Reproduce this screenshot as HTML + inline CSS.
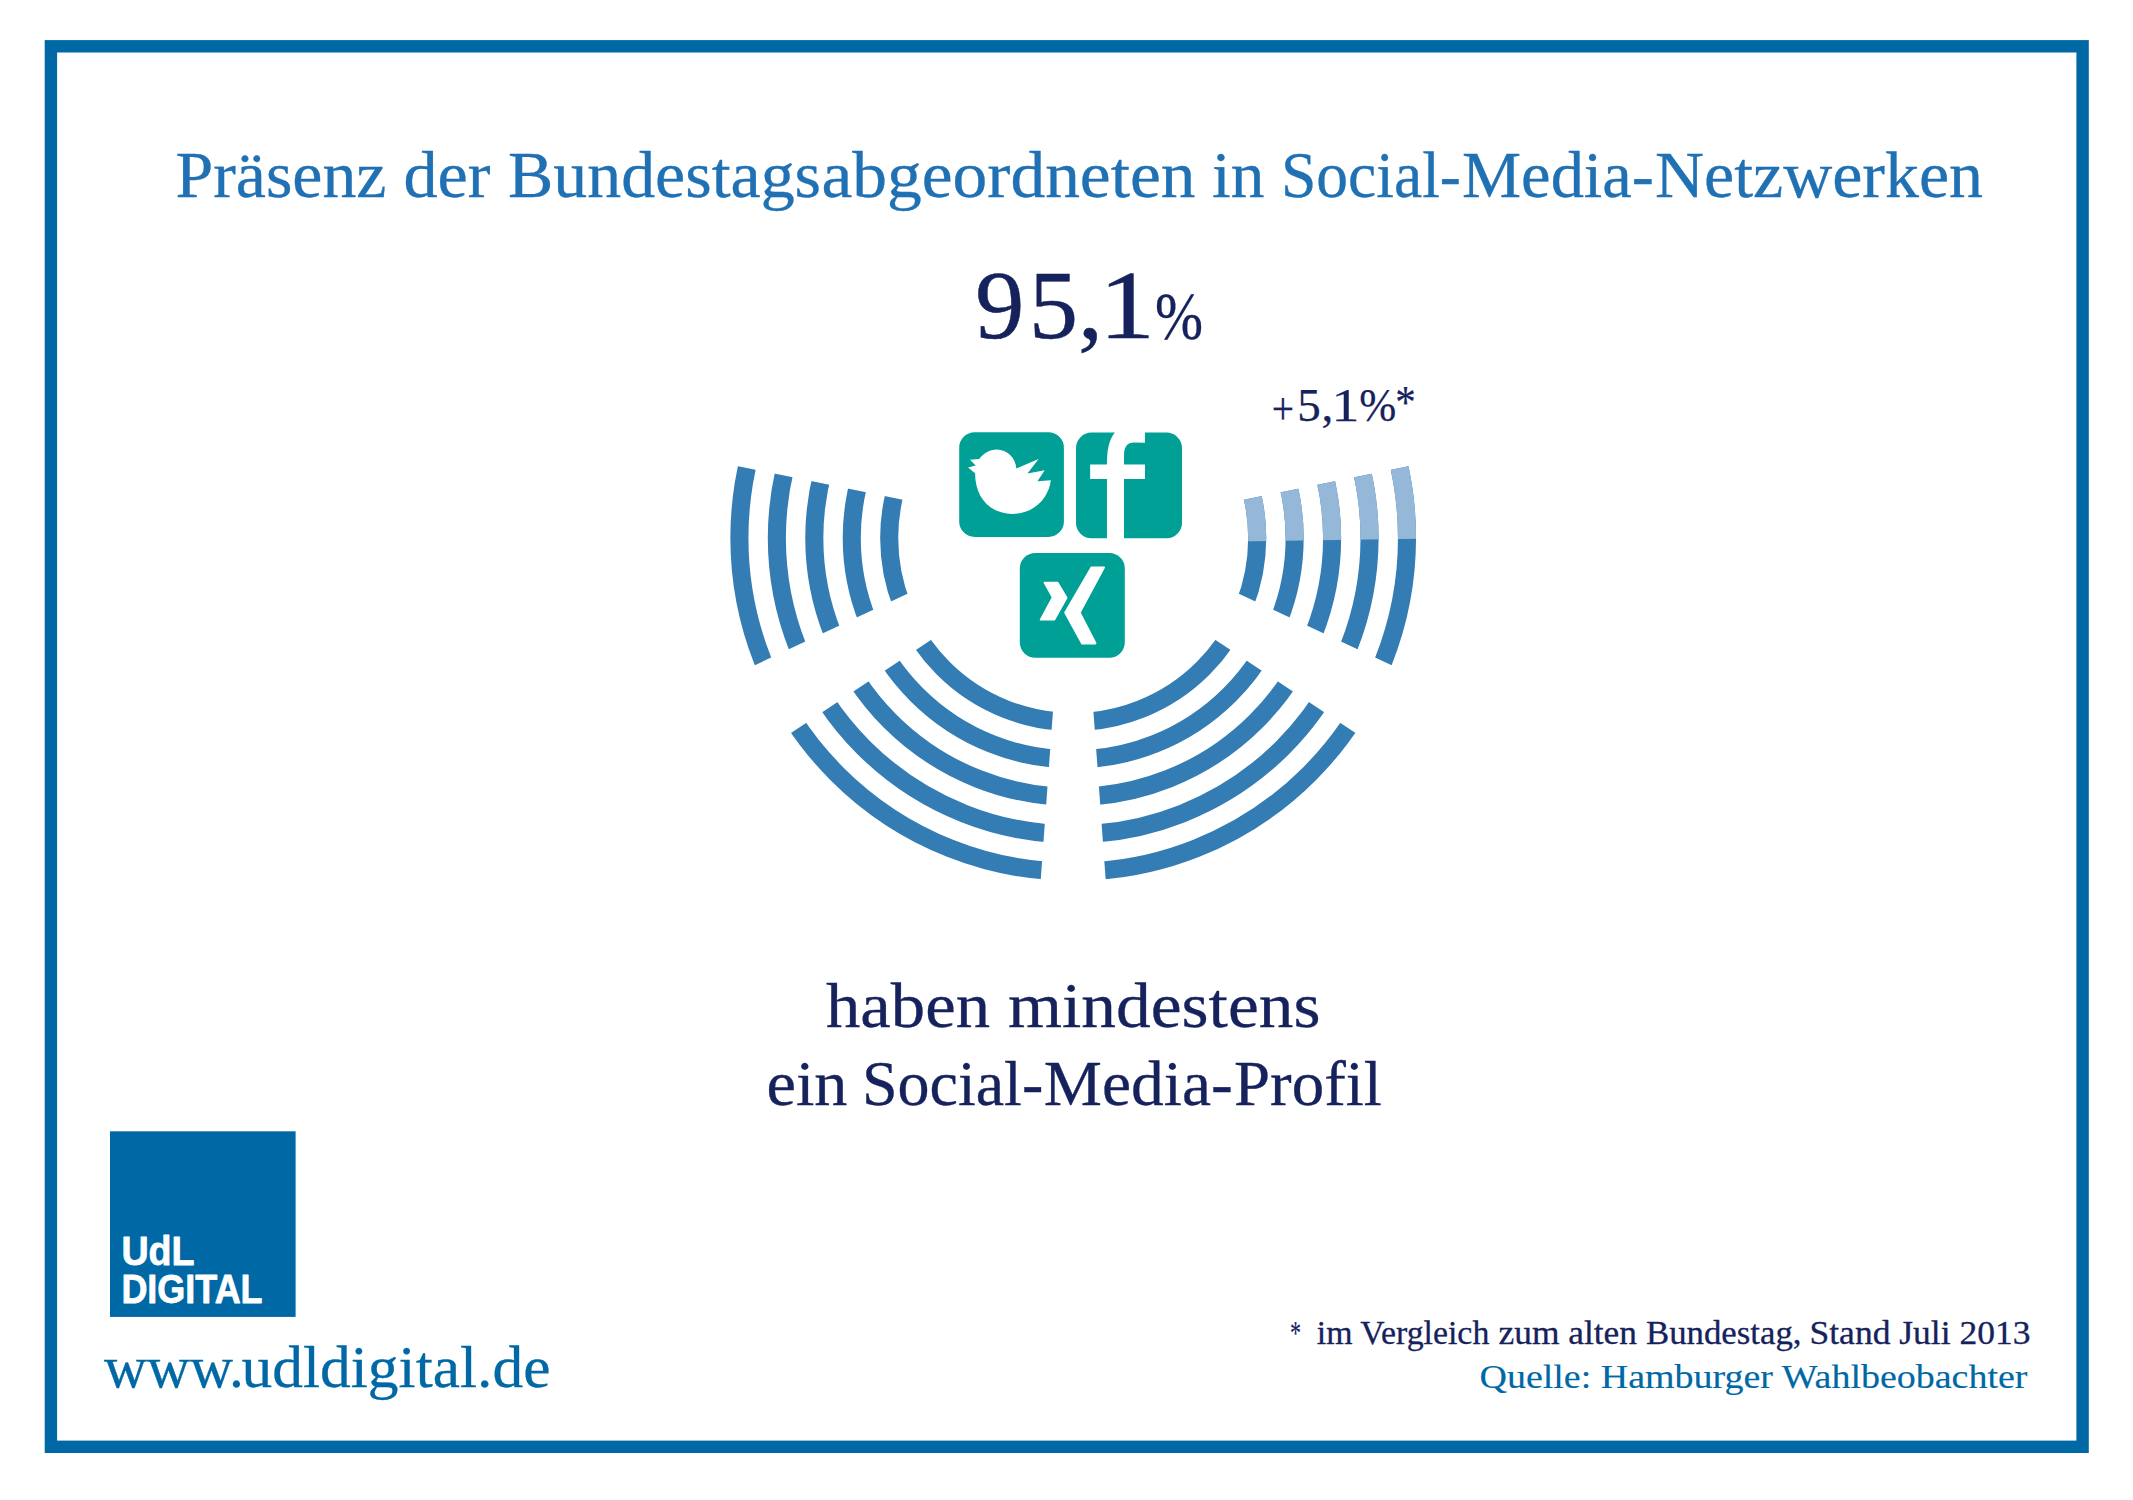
<!DOCTYPE html>
<html lang="de">
<head>
<meta charset="utf-8">
<title>Präsenz der Bundestagsabgeordneten in Social-Media-Netzwerken</title>
<style>
html,body{margin:0;padding:0;background:#fff;}
body{width:2133px;height:1500px;overflow:hidden;font-family:"Liberation Serif",serif;}
svg{display:block;}
text{stroke-linejoin:round;}
.serif{font-family:"Liberation Serif",serif;}
.sans{font-family:"Liberation Sans",sans-serif;font-weight:bold;}
</style>
</head>
<body>
<svg width="2133" height="1500" viewBox="0 0 2133 1500">
<defs>
<clipPath id="cl"><polygon points="687.76,455.92 943.20,508.00 946.55,575.50 709.40,686.48"/></clipPath>
<clipPath id="cbl"><polygon points="749.77,760.33 966.92,616.02 1055.95,670.38 1037.04,930.31"/></clipPath>
<clipPath id="cbr"><polygon points="1396.63,760.33 1179.48,616.02 1090.45,670.38 1109.36,930.31"/></clipPath>
<clipPath id="cr"><polygon points="1458.64,455.92 1203.20,508.00 1199.85,575.50 1437.00,686.48"/></clipPath>
<clipPath id="clight"><polygon points="1200.00,542.04 1450.00,538.37 1450.00,400.00 1200.00,400.00"/></clipPath>
</defs>
<rect x="0" y="0" width="2133" height="1500" fill="#ffffff"/>
<rect x="50.9" y="46.3" width="2031.7" height="1400.5" fill="none" stroke="#0068a5" stroke-width="12.4"/>
<g clip-path="url(#cl)" fill="none" stroke="#347db4" stroke-width="18.1"><circle cx="1073.2" cy="538.0" r="333.8"/><circle cx="1073.2" cy="538.0" r="296.35"/><circle cx="1073.2" cy="538.0" r="258.9"/><circle cx="1073.2" cy="538.0" r="221.45"/><circle cx="1073.2" cy="538.0" r="184.0"/></g>
<g clip-path="url(#cbl)" fill="none" stroke="#347db4" stroke-width="18.1"><circle cx="1073.2" cy="538.0" r="333.8"/><circle cx="1073.2" cy="538.0" r="296.35"/><circle cx="1073.2" cy="538.0" r="258.9"/><circle cx="1073.2" cy="538.0" r="221.45"/><circle cx="1073.2" cy="538.0" r="184.0"/></g>
<g clip-path="url(#cbr)" fill="none" stroke="#347db4" stroke-width="18.1"><circle cx="1073.2" cy="538.0" r="333.8"/><circle cx="1073.2" cy="538.0" r="296.35"/><circle cx="1073.2" cy="538.0" r="258.9"/><circle cx="1073.2" cy="538.0" r="221.45"/><circle cx="1073.2" cy="538.0" r="184.0"/></g>
<g clip-path="url(#cr)" fill="none" stroke="#347db4" stroke-width="18.1"><circle cx="1073.2" cy="538.0" r="333.8"/><circle cx="1073.2" cy="538.0" r="296.35"/><circle cx="1073.2" cy="538.0" r="258.9"/><circle cx="1073.2" cy="538.0" r="221.45"/><circle cx="1073.2" cy="538.0" r="184.0"/></g>
<g clip-path="url(#clight)"><g clip-path="url(#cr)" fill="none" stroke="#95b7d8" stroke-width="18.1"><circle cx="1073.2" cy="538.0" r="333.8"/><circle cx="1073.2" cy="538.0" r="296.35"/><circle cx="1073.2" cy="538.0" r="258.9"/><circle cx="1073.2" cy="538.0" r="221.45"/><circle cx="1073.2" cy="538.0" r="184.0"/></g></g>
<rect x="959.2" y="432.2" width="104.7" height="104.7" rx="15.5" fill="#00a096"/>
<path fill="#fff" transform="translate(955 428) scale(0.07669)" d="M195,413 L315,405 C370,330 450,280 545,280 C680,280 790,390 800,527 L1090,405 L945,592 L1170,550 L1075,693 L1250,680 C1225,900 1040,1120 750,1120 C450,1120 262,900 262,590 L170,515 L270,490 Z"/>
<rect x="1076" y="432.6" width="106" height="105.6" rx="15.5" fill="#00a096"/>
<path fill="#fff" transform="translate(1070 428) scale(0.08000)" d="M462,1390 L462,637 L252,637 L252,455 L462,455 C462,300 480,150 565,50 L937,50 L937,185 L800,180 C720,180 675,230 675,340 L675,455 L937,455 L937,637 L675,637 L675,1390 Z"/>
<rect x="1019.8" y="553" width="105" height="104.8" rx="15.5" fill="#00a096"/>
<g fill="#fff" stroke="#fff" stroke-width="22" stroke-linejoin="round" transform="translate(1012 545) scale(0.08000)"><path d="M405,471 L570,471 L683,660 L528,934 L358,934 L508,655 Z"/><path d="M992,279 L1152,279 L848,845 L1045,1226 L1040,1234 L877,1234 L663,845 Z"/></g>
<rect x="110" y="1131.3" width="185.6" height="185.6" fill="#0068a5"/>
<text class="sans" x="121.4" y="1264.5" font-size="41" fill="#fff" stroke="#fff" stroke-width="0.8" textLength="73.2" lengthAdjust="spacingAndGlyphs">UdL</text>
<text class="sans" x="121.4" y="1303" font-size="41" fill="#fff" stroke="#fff" stroke-width="0.8" textLength="141.2" lengthAdjust="spacingAndGlyphs">DIGITAL</text>
<text class="serif" x="175.5" y="197.4" font-size="65" fill="#2070b4" stroke="#2070b4" stroke-width="0.33" textLength="211" lengthAdjust="spacingAndGlyphs">Präsenz</text>
<text class="serif" x="403.5" y="197.4" font-size="65" fill="#2070b4" stroke="#2070b4" stroke-width="0.33" textLength="87" lengthAdjust="spacingAndGlyphs">der</text>
<text class="serif" x="508" y="197.4" font-size="65" fill="#2070b4" stroke="#2070b4" stroke-width="0.33" textLength="313" lengthAdjust="spacingAndGlyphs">Bundestags</text>
<text class="serif" x="821.5" y="197.4" font-size="65" fill="#2070b4" stroke="#2070b4" stroke-width="0.33" textLength="374" lengthAdjust="spacingAndGlyphs">abgeordneten</text>
<text class="serif" x="1212" y="197.4" font-size="65" fill="#2070b4" stroke="#2070b4" stroke-width="0.33" textLength="52.5" lengthAdjust="spacingAndGlyphs">in</text>
<text class="serif" x="1281" y="197.4" font-size="65" fill="#2070b4" stroke="#2070b4" stroke-width="0.33" textLength="180" lengthAdjust="spacingAndGlyphs">Social-</text>
<text class="serif" x="1462" y="197.4" font-size="65" fill="#2070b4" stroke="#2070b4" stroke-width="0.33" textLength="192" lengthAdjust="spacingAndGlyphs">Media-</text>
<text class="serif" x="1655" y="197.4" font-size="65" fill="#2070b4" stroke="#2070b4" stroke-width="0.33" textLength="328" lengthAdjust="spacingAndGlyphs">Netzwerken</text>
<text class="serif" x="975.2" y="338" font-size="97" fill="#16225c" stroke="#16225c" stroke-width="0.5" textLength="49" lengthAdjust="spacingAndGlyphs">9</text>
<text class="serif" x="1029" y="338" font-size="97" fill="#16225c" stroke="#16225c" stroke-width="0.5" textLength="49" lengthAdjust="spacingAndGlyphs">5</text>
<text class="serif" x="1078" y="338" font-size="97" fill="#16225c" stroke="#16225c" stroke-width="0.5" textLength="25" lengthAdjust="spacingAndGlyphs">,</text>
<text class="serif" x="1099" y="338" font-size="97" fill="#16225c" stroke="#16225c" stroke-width="0.5" textLength="56" lengthAdjust="spacingAndGlyphs">1</text>
<text class="serif" x="1155" y="338.8" font-size="67" fill="#16225c" stroke="#16225c" stroke-width="0.34" textLength="48" lengthAdjust="spacingAndGlyphs">%</text>
<text class="serif" x="1271.8" y="424.2" font-size="47" fill="#16225c" stroke="#16225c" stroke-width="0.25" textLength="22.3" lengthAdjust="spacingAndGlyphs">+</text>
<text class="serif" x="1297.3" y="421.2" font-size="47" fill="#16225c" stroke="#16225c" stroke-width="0.25" textLength="23.5" lengthAdjust="spacingAndGlyphs">5</text>
<text class="serif" x="1321.5" y="421.2" font-size="47" fill="#16225c" stroke="#16225c" stroke-width="0.25" textLength="11.75" lengthAdjust="spacingAndGlyphs">,</text>
<text class="serif" x="1331.5" y="421.2" font-size="47" fill="#16225c" stroke="#16225c" stroke-width="0.25" textLength="28" lengthAdjust="spacingAndGlyphs">1</text>
<text class="serif" x="1359.3" y="421.2" font-size="47" fill="#16225c" stroke="#16225c" stroke-width="0.25" textLength="37" lengthAdjust="spacingAndGlyphs">%</text>
<text class="serif" x="1395.3" y="418.2" font-size="47" fill="#16225c" stroke="#16225c" stroke-width="0.25" textLength="20.5" lengthAdjust="spacingAndGlyphs">*</text>
<text class="serif" x="826" y="1026.5" font-size="64" fill="#16225c" stroke="#16225c" stroke-width="0.32" textLength="164" lengthAdjust="spacingAndGlyphs">haben</text>
<text class="serif" x="1008" y="1026.5" font-size="64" fill="#16225c" stroke="#16225c" stroke-width="0.32" textLength="312.5" lengthAdjust="spacingAndGlyphs">mindestens</text>
<text class="serif" x="766.5" y="1105.4" font-size="64" fill="#16225c" stroke="#16225c" stroke-width="0.32" textLength="81" lengthAdjust="spacingAndGlyphs">ein</text>
<text class="serif" x="862" y="1105.4" font-size="64" fill="#16225c" stroke="#16225c" stroke-width="0.32" textLength="181.2" lengthAdjust="spacingAndGlyphs">Social-</text>
<text class="serif" x="1043.8" y="1105.4" font-size="64" fill="#16225c" stroke="#16225c" stroke-width="0.32" textLength="189" lengthAdjust="spacingAndGlyphs">Media-</text>
<text class="serif" x="1234" y="1105.4" font-size="64" fill="#16225c" stroke="#16225c" stroke-width="0.32" textLength="147.8" lengthAdjust="spacingAndGlyphs">Profil</text>
<text class="serif" x="104" y="1387.2" font-size="60" fill="#0068a5" stroke="#0068a5" stroke-width="0.3" textLength="140" lengthAdjust="spacingAndGlyphs">www.</text>
<text class="serif" x="241.5" y="1387.2" font-size="60" fill="#0068a5" stroke="#0068a5" stroke-width="0.3" textLength="309" lengthAdjust="spacingAndGlyphs">udldigital.de</text>
<text class="serif" x="1290" y="1344.4" font-size="33" fill="#16225c" stroke="#16225c" stroke-width="0.17" textLength="11" lengthAdjust="spacingAndGlyphs">*</text>
<text class="serif" x="1316.8" y="1344.4" font-size="33" fill="#16225c" stroke="#16225c" stroke-width="0.3" textLength="172.5" lengthAdjust="spacingAndGlyphs">im Vergleich</text>
<text class="serif" x="1498.5" y="1344.4" font-size="33" fill="#16225c" stroke="#16225c" stroke-width="0.3" textLength="138.5" lengthAdjust="spacingAndGlyphs">zum alten</text>
<text class="serif" x="1646" y="1344.4" font-size="33" fill="#16225c" stroke="#16225c" stroke-width="0.3" textLength="155.5" lengthAdjust="spacingAndGlyphs">Bundestag,</text>
<text class="serif" x="1809.5" y="1344.4" font-size="33" fill="#16225c" stroke="#16225c" stroke-width="0.3" textLength="221" lengthAdjust="spacingAndGlyphs">Stand Juli 2013</text>
<text class="serif" x="1479.5" y="1387.8" font-size="34" fill="#0068a5" stroke="#0068a5" stroke-width="0.15" textLength="548" lengthAdjust="spacingAndGlyphs">Quelle: Hamburger Wahlbeobachter</text>
</svg>
</body>
</html>
